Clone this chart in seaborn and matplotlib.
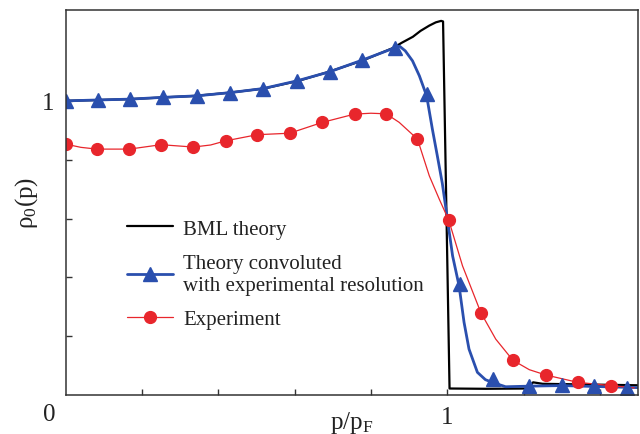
import numpy as np
import pandas as pd
import seaborn as sns
import matplotlib
matplotlib.use("Agg")
import matplotlib.pyplot as plt
from matplotlib.lines import Line2D

# values
# BML theory (black line)
bml_x = [0.0, 0.086, 0.17, 0.26, 0.34, 0.43, 0.52, 0.61, 0.69, 0.78, 0.86, 0.88, 0.91, 0.93,
         0.953, 0.97, 0.984, 0.989, 1.006, 1.10, 1.21, 1.225, 1.25, 1.35, 1.50]
bml_y = [1.000, 1.003, 1.006, 1.012, 1.017, 1.028, 1.042, 1.068, 1.099, 1.138, 1.181, 1.197, 1.218, 1.238,
         1.256, 1.267, 1.272, 1.270, 0.022, 0.021, 0.022, 0.043, 0.038, 0.036, 0.033]

# theory convoluted with resolution (blue)
conv_x = [0.0, 0.084, 0.17, 0.255, 0.343, 0.431, 0.518, 0.606, 0.692, 0.776, 0.864, 0.948,
          1.033, 1.12, 1.214, 1.300, 1.384, 1.47]
conv_y = [1.000, 1.003, 1.006, 1.012, 1.017, 1.028, 1.042, 1.068, 1.099, 1.138, 1.181, 1.023,
          0.377, 0.054, 0.032, 0.035, 0.030, 0.023]
conv_line_x = [0.0, 0.084, 0.17, 0.255, 0.343, 0.431, 0.518, 0.606, 0.692, 0.776, 0.864, 0.875,
               0.89, 0.909, 0.927, 0.946, 0.961, 0.974, 0.987, 0.998, 1.014, 1.031, 1.044, 1.057,
               1.079, 1.10, 1.12, 1.153, 1.214, 1.300, 1.384, 1.50]
conv_line_y = [1.000, 1.003, 1.006, 1.012, 1.017, 1.028, 1.042, 1.068, 1.099, 1.138, 1.181, 1.186,
               1.170, 1.136, 1.085, 1.017, 0.904, 0.813, 0.720, 0.620, 0.473, 0.371, 0.247, 0.156,
               0.077, 0.052, 0.042, 0.028, 0.030, 0.032, 0.029, 0.025]

# experiment (red)
exp_x = [0.0, 0.082, 0.167, 0.25, 0.335, 0.419, 0.502, 0.587, 0.673, 0.757, 0.84, 0.922,
         1.004, 1.088, 1.172, 1.258, 1.342, 1.428]
exp_y = [0.853, 0.836, 0.836, 0.851, 0.843, 0.864, 0.885, 0.890, 0.927, 0.955, 0.956, 0.870,
         0.594, 0.280, 0.118, 0.068, 0.043, 0.032]
exp_line_x = [0.0, 0.04, 0.082, 0.167, 0.25, 0.335, 0.38, 0.419, 0.502, 0.587, 0.673, 0.757, 0.80,
              0.84, 0.874, 0.922, 0.953, 0.979, 1.004, 1.04, 1.088, 1.127, 1.172, 1.215,
              1.258, 1.342, 1.428, 1.49]
exp_line_y = [0.853, 0.842, 0.836, 0.836, 0.851, 0.843, 0.850, 0.864, 0.885, 0.890, 0.927, 0.955, 0.958,
              0.956, 0.927, 0.870, 0.745, 0.666, 0.594, 0.439, 0.280, 0.190, 0.118, 0.086,
              0.068, 0.043, 0.032, 0.024]

labels = ["BML theory", "Theory convoluted\nwith experimental resolution", "Experiment"]
blue = "#2a4fae"
red = "#e8262c"

sns.set_theme(style="ticks")
plt.rcParams['font.family'] = ['Liberation Serif', 'DejaVu Serif']
plt.rcParams['mathtext.fontset'] = 'custom'
plt.rcParams['mathtext.rm'] = 'Liberation Serif'
plt.rcParams['mathtext.it'] = 'Liberation Serif:italic'

fig = plt.figure(figsize=(6.4, 4.35), dpi=100)
ax = fig.add_axes([0.1025, 0.0897, 0.8945, 0.8857])

sns.lineplot(x=bml_x, y=bml_y, ax=ax, color="black", lw=1.6, sort=False, estimator=None)
sns.lineplot(x=conv_line_x, y=conv_line_y, ax=ax, color=blue, lw=2.0, sort=False, estimator=None)
sns.lineplot(x=exp_line_x, y=exp_line_y, ax=ax, color=red, lw=0.9, sort=False, estimator=None)
ax.plot(conv_x, conv_y, ls="none", marker="^", ms=10, color=blue, mec=blue)
ax.plot(exp_x, exp_y, ls="none", marker="o", ms=8.5, color=red, mec=red)

ax.set_xlim(0, 1.5)
ax.set_ylim(0, 1.31)
ax.set_xticks([0.2, 0.4, 0.6, 0.8, 1.0, 1.2, 1.4])
ax.set_xticklabels(["", "", "", "", "1", "", ""])
ax.set_yticks([0.2, 0.4, 0.6, 0.8, 1.0])
ax.set_yticklabels(["", "", "", "", "1"])
ax.tick_params(direction="in", length=4, width=1, colors="#333333", labelsize=18,
               labelcolor="#222222")
ax.tick_params(axis="x", pad=8)
ax.tick_params(axis="y", pad=8)
for s in ax.spines.values():
    s.set_color("#333333")
    s.set_linewidth(1.1)

ax.text(-0.029, -0.022, "0", transform=ax.transAxes, ha="center", va="top", fontsize=18,
        color="#222222")
ax.set_xlabel("p/p$_\\mathrm{F}$", fontsize=18, color="#222222")
ax.xaxis.set_label_coords(0.5, -0.036)
ax.set_ylabel("ρ$_0$(p)", fontsize=18, color="#222222")
ax.yaxis.set_label_coords(-0.045, 0.5)

handles = [Line2D([], [], color="black", lw=1.6),
           Line2D([], [], color=blue, lw=2.0, marker="^", ms=10),
           Line2D([], [], color=red, lw=0.9, marker="o", ms=8.5)]
ax.legend(handles, labels, loc="upper left", bbox_to_anchor=(0.074, 0.505), frameon=False,
          fontsize=15, handlelength=2.2, handletextpad=0.5, labelspacing=0.72,
          labelcolor="#222222")

fig.savefig("out.png", dpi=100)
